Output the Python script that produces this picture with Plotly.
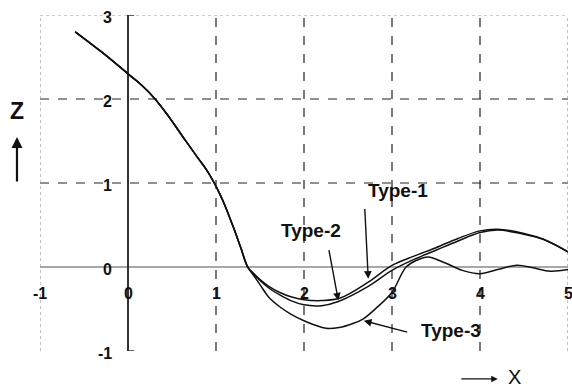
import plotly.graph_objects as go

# ---- data ----
x_common = [-0.6, -0.3, 0.0, 0.15, 0.3, 0.45, 0.65, 0.8, 0.9, 0.98, 1.04, 1.1, 1.2, 1.28, 1.36]
z_common = [2.80, 2.56, 2.30, 2.17, 2.01, 1.81, 1.51, 1.29, 1.145, 1.00, 0.877, 0.736, 0.466, 0.234, 0.00]

x_type1 = [1.42, 1.5, 1.6, 1.72, 1.85, 2.0, 2.2, 2.41, 2.73, 3.0, 3.25, 3.5, 3.75, 4.0, 4.2, 4.5, 4.72, 5.0]
z_type1 = [-0.07, -0.15, -0.23, -0.30, -0.355, -0.39, -0.40, -0.37, -0.18, 0.02, 0.13, 0.23, 0.34, 0.43, 0.45, 0.40, 0.33, 0.18]

x_type2 = [1.42, 1.5, 1.6, 1.72, 1.85, 2.0, 2.2, 2.39, 2.73, 3.0, 3.25, 3.5, 3.75, 4.0, 4.2, 4.5, 4.72, 5.0]
z_type2 = [-0.075, -0.16, -0.25, -0.33, -0.40, -0.45, -0.46, -0.41, -0.23, -0.04, 0.09, 0.20, 0.31, 0.41, 0.44, 0.39, 0.33, 0.18]

x_type3 = [1.42, 1.5, 1.6, 1.72, 1.85, 2.0, 2.12, 2.25, 2.4, 2.55, 2.67, 2.82, 3.0, 3.16, 3.28, 3.41, 3.6, 3.8, 4.0, 4.2, 4.42, 4.6, 4.8, 5.0]
z_type3 = [-0.09, -0.21, -0.36, -0.47, -0.56, -0.64, -0.69, -0.73, -0.72, -0.675, -0.62, -0.49, -0.30, 0.0, 0.08, 0.12, 0.05, -0.04, -0.08, -0.03, 0.02, -0.01, -0.05, -0.03]

x_ticks = [-1, 0, 1, 2, 3, 4, 5]
y_ticks = [-1, 0, 1, 2, 3]
x_grid = [1, 2, 3, 4]
y_grid = [1, 2]

labels = ["Type-1", "Type-2", "Type-3"]
label_pos = [(3.07, 0.91), (2.08, 0.43), (3.67, -0.75)]
arrow_tail = [(2.69, 0.71), (2.28, 0.22), (3.19, -0.78)]
arrow_tip = [(2.73, -0.14), (2.39, -0.40), (2.68, -0.64)]

FONT = "Liberation Sans, Arial, sans-serif"

fig = go.Figure()
for xs, zs in [(x_type1, z_type1), (x_type2, z_type2), (x_type3, z_type3)]:
    fig.add_trace(go.Scatter(
        x=x_common + xs, y=z_common + zs, mode="lines",
        line=dict(color="#111111", width=1.5, shape="spline", smoothing=1.0),
        showlegend=False, hoverinfo="skip"))

shapes = []
# dashed grid
for gx in x_grid:
    shapes.append(dict(type="line", x0=gx, x1=gx, y0=-1, y1=3, xref="x", yref="y",
                       line=dict(color="#222222", width=1.2, dash="dash"), layer="below"))
for gy in y_grid:
    shapes.append(dict(type="line", x0=-1, x1=5, y0=gy, y1=gy, xref="x", yref="y",
                       line=dict(color="#222222", width=1.2, dash="dash"), layer="below"))
# dotted borders
for (x0, x1, y0, y1) in [(-1, -1, -1, 3), (5, 5, -1, 3), (-1, 5, 3, 3)]:
    shapes.append(dict(type="line", x0=x0, x1=x1, y0=y0, y1=y1, xref="x", yref="y",
                       line=dict(color="#999999", width=1.2, dash="dot"), layer="below"))
# axes
shapes.append(dict(type="line", x0=-1, x1=5, y0=0, y1=0, xref="x", yref="y",
                   line=dict(color="#8a8a8a", width=1.5), layer="below"))
shapes.append(dict(type="line", x0=0, x1=0, y0=-1, y1=3, xref="x", yref="y",
                   line=dict(color="#333333", width=2), layer="below"))
for yv in [3, -1]:
    shapes.append(dict(type="line", x0=0, x1=0.07, y0=yv, y1=yv, xref="x", yref="y",
                       line=dict(color="#333333", width=1.5), layer="below"))

tick_font = dict(family=FONT, size=16, color="#111111", weight="bold")
annotations = []
for t in y_ticks:
    annotations.append(dict(x=-0.16, y=t, yshift=-2, xref="x", yref="y", text=str(t), showarrow=False,
                            xanchor="right", yanchor="middle", font=tick_font))
for t in x_ticks:
    annotations.append(dict(x=t, y=-0.31, xref="x", yref="y", text=str(t), showarrow=False,
                            xanchor="center", yanchor="middle", font=tick_font))
for lab, (lx, ly) in zip(labels, label_pos):
    annotations.append(dict(x=lx, y=ly, xref="x", yref="y", text=lab,
                            showarrow=False, xanchor="center", yanchor="middle",
                            font=dict(family=FONT, size=19, color="#111111", weight="bold")))
for (tx, ty), (hx, hy) in zip(arrow_tail, arrow_tip):
    annotations.append(dict(x=hx, y=hy, ax=tx, ay=ty, xref="x", yref="y", axref="x", ayref="y",
                            text="", showarrow=True, arrowhead=2, arrowsize=1.1,
                            arrowwidth=1.4, arrowcolor="#111111", standoff=0))
# axis names
annotations.append(dict(x=-0.0436, y=0.713, xref="paper", yref="paper", text="Z", showarrow=False,
                        xanchor="center", yanchor="middle",
                        font=dict(family=FONT, size=23, color="#111111", weight="bold")))
annotations.append(dict(x=-0.0436, y=0.637, xref="paper", yref="paper", ax=0, ay=46, text="",
                        showarrow=True, arrowhead=2, arrowsize=1, arrowwidth=2.2,
                        arrowcolor="#111111", standoff=0))
annotations.append(dict(x=0.8996, y=-0.078, xref="paper", yref="paper", text="X", showarrow=False,
                        xanchor="center", yanchor="middle",
                        font=dict(family=FONT, size=20, color="#111111")))
annotations.append(dict(x=0.867, y=-0.083, xref="paper", yref="paper", ax=-38, ay=0, text="",
                        showarrow=True, arrowhead=2, arrowsize=1, arrowwidth=1.3,
                        arrowcolor="#111111", standoff=0))

fig.update_layout(
    width=572, height=388,
    margin=dict(l=40, r=4, t=15, b=37),
    paper_bgcolor="white", plot_bgcolor="white",
    xaxis=dict(range=[-1, 5], showgrid=False, zeroline=False, showticklabels=False,
               ticks="", showline=False, fixedrange=True),
    yaxis=dict(range=[-1, 3], showgrid=False, zeroline=False, showticklabels=False,
               ticks="", showline=False, fixedrange=True),
    shapes=shapes, annotations=annotations, showlegend=False,
)
fig.write_html("out.html")
